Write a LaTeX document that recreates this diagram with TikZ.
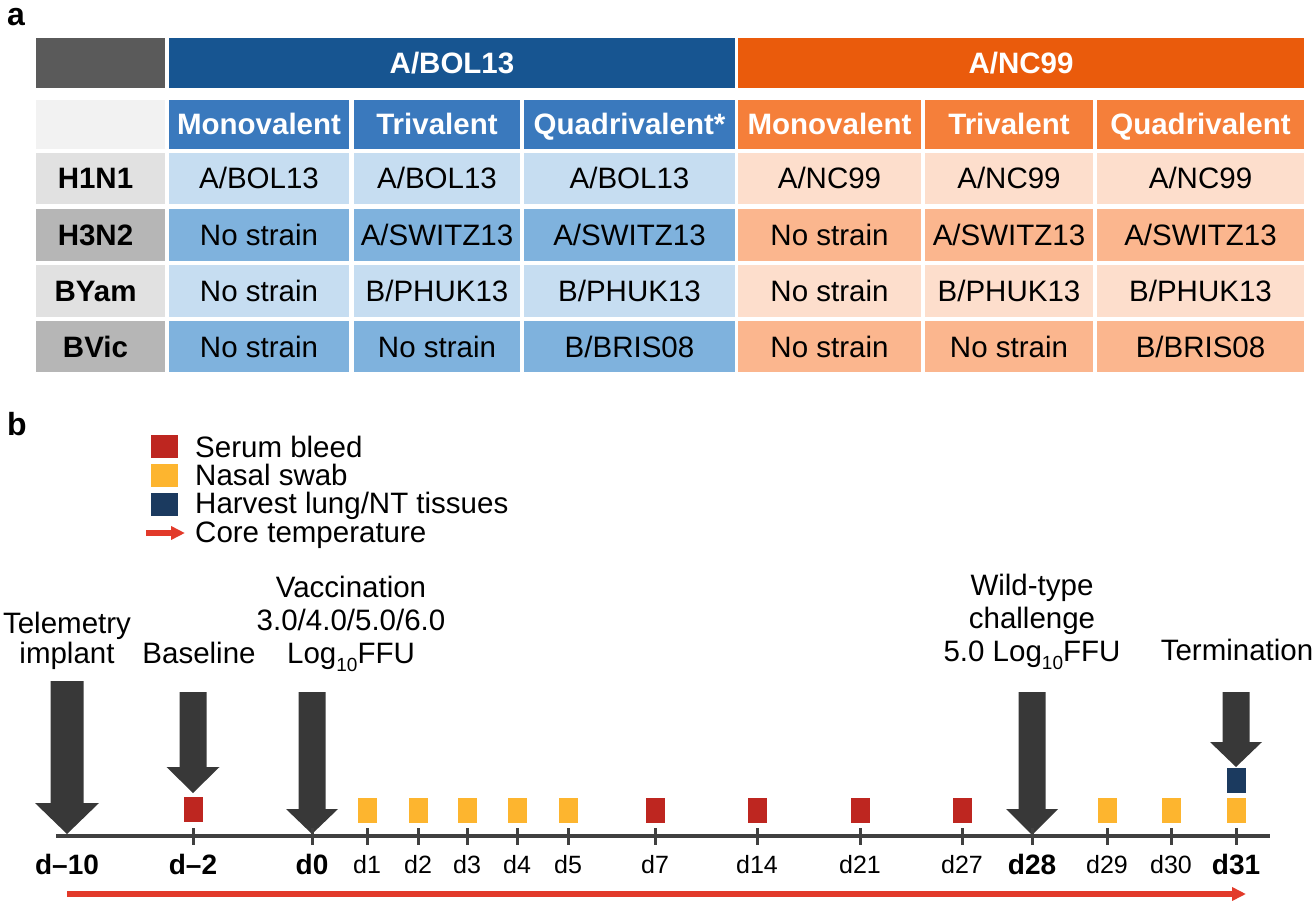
\documentclass[tikz,border=0pt]{standalone}
\usepackage{fontspec}
\setmainfont{Liberation Sans}
\usetikzlibrary{arrows.meta}

\definecolor{hdgray}{HTML}{5A5A5A}
\definecolor{bolblue}{HTML}{175591}
\definecolor{ncorange}{HTML}{EA5B0C}
\definecolor{subblue}{HTML}{3A79BD}
\definecolor{suborange}{HTML}{F57F3A}
\definecolor{lightblue}{HTML}{C6DDF1}
\definecolor{midblue}{HTML}{7FB2DD}
\definecolor{lightorange}{HTML}{FDDECC}
\definecolor{midorange}{HTML}{FBB68E}
\definecolor{lablight}{HTML}{E1E1E1}
\definecolor{labdark}{HTML}{B6B6B6}
\definecolor{cornergray}{HTML}{F2F2F2}
\definecolor{arrowgray}{HTML}{383838}
\definecolor{linegray}{HTML}{404040}
\definecolor{bleedred}{HTML}{BE2620}
\definecolor{swabyellow}{HTML}{FDB52F}
\definecolor{harvestnavy}{HTML}{1B3A5F}
\definecolor{tempred}{HTML}{E23A2A}

\newcommand{\cellfont}{\fontsize{29.5}{33}\selectfont}
\newcommand{\daybold}{\fontsize{28}{30}\selectfont\bfseries}
\newcommand{\dayreg}{\fontsize{25}{27}\selectfont}
\newcommand{\logsub}[1]{\raisebox{-8pt}{\fontsize{19}{19}\selectfont #1}}
% x, shaft top, head start, tip, shaft half width, head half width
\newcommand{\blockarrow}[6]{\fill[arrowgray] (#1-#5,#2) -- (#1+#5,#2) -- (#1+#5,#3) -- (#1+#6,#3) -- (#1,#4) -- (#1-#6,#3) -- (#1-#5,#3) -- cycle;}

\tikzset{
  cell/.style={inner sep=0pt, text height=21pt, text depth=0pt, font=\cellfont},
  head/.style={cell, text=white, font=\cellfont\bfseries},
  rowlab/.style={cell, font=\cellfont\bfseries},
  panel/.style={inner sep=0pt, anchor=base west, font=\fontsize{32}{32}\selectfont\bfseries},
  event/.style={inner sep=0pt, align=center, font=\cellfont},
  box/.style={minimum width=19pt, minimum height=25pt, inner sep=0pt},
  keybox/.style={minimum width=27pt, minimum height=23pt, inner sep=0pt},
  tick/.style={linegray, line width=3pt},
  temparrow/.style={tempred, line width=5.5pt, -{Triangle[length=14pt,width=13pt]}}
}

\begin{document}
\begin{tikzpicture}[x=1pt, y=-1pt]
\useasboundingbox (0,0) rectangle (1313,901);

% ---- panel a: the table
\node[panel] (a) at (7,26) {a};

\node[head, fill=hdgray, minimum width=129pt, minimum height=50pt] (corner) at (100.5,63) {};
\node[head, fill=bolblue, minimum width=566pt, minimum height=50pt] (bol) at (452,63) {A/BOL13};
\node[head, fill=ncorange, minimum width=566pt, minimum height=50pt] (nc) at (1021,63) {A/NC99};

\node[head, fill=cornergray, minimum width=129pt, minimum height=49pt] (blank) at (100.5,124.5) {};
\node[head, fill=subblue, minimum width=180pt, minimum height=49pt] (bmono) at (259,124.5) {Monovalent};
\node[head, fill=subblue, minimum width=166pt, minimum height=49pt] (btri) at (437,124.5) {Trivalent};
\node[head, fill=subblue, minimum width=211pt, minimum height=49pt] (bquad) at (629.5,124.5) {Quadrivalent*};
\node[head, fill=suborange, minimum width=183pt, minimum height=49pt] (omono) at (829.5,124.5) {Monovalent};
\node[head, fill=suborange, minimum width=168pt, minimum height=49pt] (otri) at (1009,124.5) {Trivalent};
\node[head, fill=suborange, minimum width=207pt, minimum height=49pt] (oquad) at (1200.5,124.5) {Quadrivalent};

% H1N1
\node[rowlab, fill=lablight, minimum width=129pt, minimum height=51pt] (h1n1) at (100.5,178.5) {\hspace*{-10pt}H1N1};
\node[cell, fill=lightblue, minimum width=180pt, minimum height=51pt] (h1n1-bm) at (259,178.5) {A/BOL13};
\node[cell, fill=lightblue, minimum width=166pt, minimum height=51pt] (h1n1-bt) at (437,178.5) {A/BOL13};
\node[cell, fill=lightblue, minimum width=211pt, minimum height=51pt] (h1n1-bq) at (629.5,178.5) {A/BOL13};
\node[cell, fill=lightorange, minimum width=183pt, minimum height=51pt] (h1n1-om) at (829.5,178.5) {A/NC99};
\node[cell, fill=lightorange, minimum width=168pt, minimum height=51pt] (h1n1-ot) at (1009,178.5) {A/NC99};
\node[cell, fill=lightorange, minimum width=207pt, minimum height=51pt] (h1n1-oq) at (1200.5,178.5) {A/NC99};

% H3N2
\node[rowlab, fill=labdark, minimum width=129pt, minimum height=52pt] (h3n2) at (100.5,235) {\hspace*{-10pt}H3N2};
\node[cell, fill=midblue, minimum width=180pt, minimum height=52pt] (h3n2-bm) at (259,235) {No strain};
\node[cell, fill=midblue, minimum width=166pt, minimum height=52pt] (h3n2-bt) at (437,235) {A/SWITZ13};
\node[cell, fill=midblue, minimum width=211pt, minimum height=52pt] (h3n2-bq) at (629.5,235) {A/SWITZ13};
\node[cell, fill=midorange, minimum width=183pt, minimum height=52pt] (h3n2-om) at (829.5,235) {No strain};
\node[cell, fill=midorange, minimum width=168pt, minimum height=52pt] (h3n2-ot) at (1009,235) {A/SWITZ13};
\node[cell, fill=midorange, minimum width=207pt, minimum height=52pt] (h3n2-oq) at (1200.5,235) {A/SWITZ13};

% BYam
\node[rowlab, fill=lablight, minimum width=129pt, minimum height=52pt] (byam) at (100.5,291) {\hspace*{-10pt}BYam};
\node[cell, fill=lightblue, minimum width=180pt, minimum height=52pt] (byam-bm) at (259,291) {No strain};
\node[cell, fill=lightblue, minimum width=166pt, minimum height=52pt] (byam-bt) at (437,291) {B/PHUK13};
\node[cell, fill=lightblue, minimum width=211pt, minimum height=52pt] (byam-bq) at (629.5,291) {B/PHUK13};
\node[cell, fill=lightorange, minimum width=183pt, minimum height=52pt] (byam-om) at (829.5,291) {No strain};
\node[cell, fill=lightorange, minimum width=168pt, minimum height=52pt] (byam-ot) at (1009,291) {B/PHUK13};
\node[cell, fill=lightorange, minimum width=207pt, minimum height=52pt] (byam-oq) at (1200.5,291) {B/PHUK13};

% BVic
\node[rowlab, fill=labdark, minimum width=129pt, minimum height=51pt] (bvic) at (100.5,346.5) {\hspace*{-10pt}BVic};
\node[cell, fill=midblue, minimum width=180pt, minimum height=51pt] (bvic-bm) at (259,346.5) {No strain};
\node[cell, fill=midblue, minimum width=166pt, minimum height=51pt] (bvic-bt) at (437,346.5) {No strain};
\node[cell, fill=midblue, minimum width=211pt, minimum height=51pt] (bvic-bq) at (629.5,346.5) {B/BRIS08};
\node[cell, fill=midorange, minimum width=183pt, minimum height=51pt] (bvic-om) at (829.5,346.5) {No strain};
\node[cell, fill=midorange, minimum width=168pt, minimum height=51pt] (bvic-ot) at (1009,346.5) {No strain};
\node[cell, fill=midorange, minimum width=207pt, minimum height=51pt] (bvic-oq) at (1200.5,346.5) {B/BRIS08};

% ---- panel b: the timeline
\node[panel] (b) at (7,435) {b};

% legend
\node[keybox, fill=bleedred] (keybleed) at (164.5,446.5) {};
\node[keybox, fill=swabyellow] (keyswab) at (164.5,475.5) {};
\node[keybox, fill=harvestnavy] (keyharvest) at (164.5,504) {};
\coordinate (keytemp) at (146,533);
\draw[temparrow] (keytemp) -- +(39,0);
\node[event, anchor=base west] (lbleed) at (195,457) {Serum bleed};
\node[event, anchor=base west] (lswab) at (195,485) {Nasal swab};
\node[event, anchor=base west] (lharvest) at (195,513) {Harvest lung/NT tissues};
\node[event, anchor=base west] (ltemp) at (195,542) {Core temperature};

% events
\node[event, anchor=north, font=\fontsize{29.5}{30}\selectfont] (implant) at (67,612) {Telemetry\\implant};
\node[event, anchor=base] (baseline) at (199,663) {Baseline};
\node[event, anchor=north] (vacc) at (351,576) {Vaccination\\3.0/4.0/5.0/6.0\\Log\logsub{10}FFU};
\node[event, anchor=north] (challenge) at (1032,574) {Wild-type\\challenge\\5.0 Log\logsub{10}FFU};
\node[event, anchor=base] (term) at (1237,660) {Termination};

\blockarrow{67}{681}{803}{834}{16.5}{32}
\blockarrow{193}{692}{767}{793}{13.5}{26.5}
\blockarrow{312}{692}{809}{834}{13.5}{26}
\blockarrow{1032}{692}{809}{835}{13.5}{26}
\blockarrow{1236}{692}{742}{767}{13.5}{26}

% axis, ticks and day labels
\draw[linegray, line width=4pt] (56,836) -- (1270,836);
\foreach \x in {193,312,367,418,467,517,568,655,757,860,962,1032,1107,1171,1236}
  \draw[tick] (\x,828) -- (\x,845);
\foreach \x/\d in {67/d--10,193/d--2,312/d0,1032/d28,1236/d31}
  \node[inner sep=0pt, anchor=base, font=\daybold] at (\x,874) {\d};
\foreach \x/\d in {367/d1,418/d2,467/d3,517/d4,568/d5,655/d7,757/d14,860/d21,962/d27,1107/d29,1171/d30}
  \node[inner sep=0pt, anchor=base, font=\dayreg] at (\x,873) {\d};

% samples
\node[box, fill=bleedred] (bleed-2) at (193,809.5) {};
\foreach \x in {655,757,860,962}
  \node[box, fill=bleedred] (bleed\x) at (\x,810.5) {};
\foreach \x in {367,418,467,517,568,1107,1171,1236}
  \node[box, fill=swabyellow] (swab\x) at (\x,810.5) {};
\node[box, fill=harvestnavy] (harvest) at (1236,780.5) {};

% core temperature
\coordinate (tstart) at (67,894);
\coordinate (tend) at (1246,894);
\draw[temparrow] (tstart) -- (tend);
\end{tikzpicture}
\end{document}
